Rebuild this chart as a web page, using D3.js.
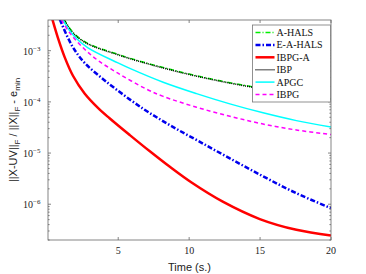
<!DOCTYPE html>
<html>
<head>
<meta charset="utf-8">
<script src="https://cdn.jsdelivr.net/npm/d3@7"></script>
<style>
  body { margin: 0; background: #fff; }
  svg { display: block; }
</style>
</head>
<body>
<div id="chart"></div>
<script>
//series (time in s., relative error)
const tAHALS = [0.9, 1.34, 1.93, 2.87, 4.98, 5.82, 8.17, 10.52, 13.57, 17.56, 20];
const vAHALS = [6.31e-3, 3.47e-3, 2.10e-3, 1.38e-3, 8.49e-4, 7.13e-4, 4.68e-4, 3.24e-4, 2.18e-4, 1.45e-4, 1.15e-4];

const tEAHALS = [0.6, 0.99, 1.46, 1.93, 2.63, 3.57, 4.75, 6.76, 8.64, 10.63, 12.87, 15.21, 17.56, 20];
const vEAHALS = [6.31e-3, 3.47e-3, 1.77e-3, 1.03e-3, 5.78e-4, 3.37e-4, 1.85e-4, 7.33e-5, 3.51e-5, 1.73e-5, 7.87e-6, 3.51e-6, 1.64e-6, 8.38e-7];

const tIBPGA = [0.1, 0.33, 0.75, 1.23, 1.81, 2.63, 3.57, 4.39, 5.82, 7.23, 8.64, 10.17, 12.37, 14.98, 17.56, 20];
const vIBPGA = [7.41e-3, 4.37e-3, 1.78e-3, 7.41e-4, 3.24e-4, 1.46e-4, 7.64e-5, 4.79e-5, 2.24e-5, 1.08e-5, 5.37e-6, 2.65e-6, 1.12e-6, 5.13e-7, 3.16e-7, 2.45e-7];

const tIBP = [0.9, 1.34, 1.93, 2.87, 4.98, 5.82, 8.17, 10.52, 13.57, 17.56, 20];
const vIBP = [6.18e-3, 3.40e-3, 2.06e-3, 1.35e-3, 8.32e-4, 6.99e-4, 4.59e-4, 3.18e-4, 2.14e-4, 1.42e-4, 1.13e-4];

const tAPGC = [0.8, 1.23, 1.93, 2.87, 4.98, 5.82, 8.17, 10.52, 12.87, 15.21, 17.56, 20];
const vAPGC = [6.31e-3, 3.47e-3, 1.88e-3, 1.14e-3, 5.79e-4, 4.51e-4, 2.42e-4, 1.45e-4, 9.14e-5, 6.11e-5, 4.30e-5, 3.24e-5];

const tIBPG = [0.6, 0.99, 1.69, 2.63, 3.57, 4.98, 7.0, 8.17, 10.52, 12.87, 15.21, 17.56, 20];
const vIBPG = [7.08e-3, 4.07e-3, 2.04e-3, 1.07e-3, 6.46e-4, 3.63e-4, 1.77e-4, 1.28e-4, 7.85e-5, 5.24e-5, 3.69e-5, 2.82e-5, 2.30e-5];

const xTicks = [5, 10, 15, 20];
const yTickExps = [-6, -5, -4, -3];

//series styling, in legend order
const series = [
  { name: 'A-HALS', t: tAHALS, v: vAHALS, color: '#00ee00', width: 1.5, dash: '5,2,1,2' },
  { name: 'E-A-HALS', t: tEAHALS, v: vEAHALS, color: '#0000ee', width: 2.5, dash: '5,2,1.5,2' },
  { name: 'IBPG-A', t: tIBPGA, v: vIBPGA, color: '#ff0000', width: 2.5, dash: null },
  { name: 'IBP', t: tIBP, v: vIBP, color: '#000000', width: 1.5, dash: '1,1' },
  { name: 'APGC', t: tAPGC, v: vAPGC, color: '#00ffff', width: 1.5, dash: null },
  { name: 'IBPG', t: tIBPG, v: vIBPG, color: '#ff00ff', width: 1.5, dash: '4,3' }
];

const W = 366, H = 274;
const margin = { top: 20, right: 35, bottom: 34, left: 48 };
const x = d3.scaleLinear().domain([0.05, 20]).range([margin.left, W - margin.right]);
const y = d3.scaleLog().domain([2.0e-7, 3.98e-3]).range([H - margin.bottom, margin.top]);

const svg = d3.select('#chart').append('svg')
  .attr('width', W).attr('height', H);

svg.append('defs').append('clipPath').attr('id', 'clip')
  .append('rect')
  .attr('x', margin.left).attr('y', margin.top)
  .attr('width', x.range()[1] - margin.left)
  .attr('height', y.range()[0] - margin.top);

//curves
const line = d3.line()
  .x(d => x(d[0]))
  .y(d => y(d[1]))
  .curve(d3.curveCatmullRom.alpha(0.5));

const linesG = svg.append('g').attr('clip-path', 'url(#clip)');
series.forEach(s => {
  linesG.append('path')
    .datum(s.t.map((t, i) => [t, s.v[i]]))
    .attr('d', line)
    .attr('fill', 'none')
    .attr('stroke', s.color)
    .attr('stroke-width', s.width)
    .attr('stroke-dasharray', s.dash);
});

//box and ticks (MATLAB style, inside, mirrored)
const axisColor = '#666';
const x0 = margin.left, x1 = x.range()[1], y0 = y.range()[0], y1 = margin.top;
const axG = svg.append('g').attr('stroke', axisColor).attr('stroke-width', 0.8);
axG.append('rect')
  .attr('x', x0).attr('y', y1).attr('width', x1 - x0).attr('height', y0 - y1)
  .attr('fill', 'none');

xTicks.forEach(t => {
  axG.append('line').attr('x1', x(t)).attr('x2', x(t)).attr('y1', y0).attr('y2', y0 - 3);
  axG.append('line').attr('x1', x(t)).attr('x2', x(t)).attr('y1', y1).attr('y2', y1 + 3);
});

//log ticks: major at decades, minor at 2..9
const [ymin, ymax] = y.domain();
for (let e = -7; e <= -2; e++) {
  for (let m = 1; m <= 9; m++) {
    const v = m * Math.pow(10, e);
    if (v < ymin || v > ymax) continue;
    const len = m === 1 ? 3 : 1.6;
    axG.append('line').attr('x1', x0).attr('x2', x0 + len).attr('y1', y(v)).attr('y2', y(v));
    axG.append('line').attr('x1', x1).attr('x2', x1 - len).attr('y1', y(v)).attr('y2', y(v));
  }
}

//tick labels
const serif = '"Liberation Serif", "DejaVu Serif", serif';
const sans = '"Liberation Sans", Arial, sans-serif';

svg.append('g').selectAll('text')
  .data(xTicks).enter().append('text')
  .attr('x', d => x(d))
  .attr('y', y0 + 14)
  .attr('text-anchor', 'middle')
  .attr('font-family', serif)
  .attr('font-size', 10)
  .attr('fill', '#222')
  .text(d => d);

const yLab = svg.append('g').selectAll('text')
  .data(yTickExps).enter().append('text')
  .attr('x', 23)
  .attr('y', d => y(Math.pow(10, d)) + 4)
  .attr('font-family', serif)
  .attr('font-size', 10)
  .attr('fill', '#222');
yLab.append('tspan').text('10');
yLab.append('tspan').attr('dy', -4).attr('font-size', 7).text(d => '\u2212' + (-d));

//axis titles
svg.append('text')
  .attr('x', (x0 + x1) / 2)
  .attr('y', H - 3)
  .attr('text-anchor', 'middle')
  .attr('font-family', sans)
  .attr('font-size', 11)
  .attr('fill', '#222')
  .text('Time (s.)');

const yt = svg.append('text')
  .attr('transform', `translate(17,${(y0 + y1) / 2}) rotate(-90)`)
  .attr('text-anchor', 'middle')
  .attr('font-family', sans)
  .attr('font-size', 11)
  .attr('fill', '#222');
yt.append('tspan').text('||X-UV||');
yt.append('tspan').attr('font-size', 8).attr('dy', 3).text('F');
yt.append('tspan').attr('dy', -3).text(' / ||X||');
yt.append('tspan').attr('font-size', 8).attr('dy', 3).text('F');
yt.append('tspan').attr('dy', -3).text(' - e');
yt.append('tspan').attr('font-size', 8).attr('dy', 3).text('min');

//legend
const lg = svg.append('g').attr('transform', 'translate(252.5,25)');
lg.append('rect')
  .attr('width', 78).attr('height', 77)
  .attr('fill', '#fff').attr('stroke', '#777').attr('stroke-width', 0.8);
series.forEach((s, i) => {
  const ly = 7.5 + i * 12.4;
  lg.append('line')
    .attr('x1', 3).attr('x2', 22).attr('y1', ly).attr('y2', ly)
    .attr('stroke', s.color)
    .attr('stroke-width', s.width)
    .attr('stroke-dasharray', s.dash);
  lg.append('text')
    .attr('x', 24).attr('y', ly + 3.5)
    .attr('font-family', serif)
    .attr('font-size', 10)
    .attr('fill', '#111')
    .text(s.name);
});
</script>
</body>
</html>
